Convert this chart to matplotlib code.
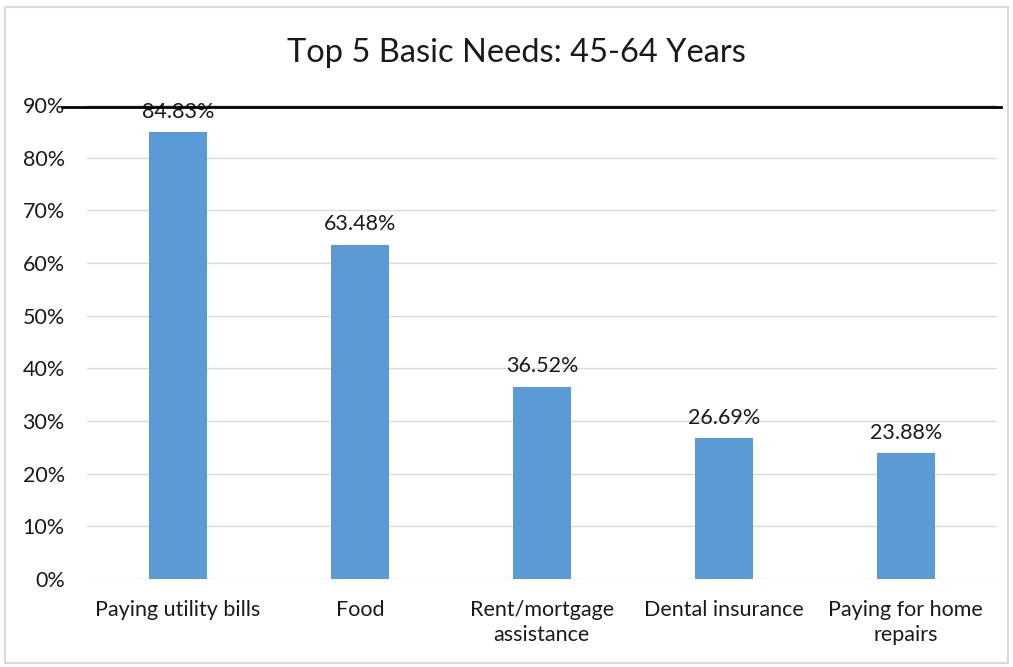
import matplotlib
matplotlib.use("Agg")
import matplotlib.pyplot as plt
from matplotlib.patches import Rectangle
from matplotlib.lines import Line2D

plt.rcParams['font.family'] = ['Lato', 'DejaVu Sans']

categories = ['Paying utility bills', 'Food', 'Rent/mortgage\nassistance',
              'Dental insurance', 'Paying for home\nrepairs']
values = [84.83, 63.48, 36.52, 26.69, 23.88]
yticks = [0, 10, 20, 30, 40, 50, 60, 70, 80, 90]

fig = plt.figure(figsize=(10.13, 6.67), dpi=100)
ax = fig.add_axes([0.0859, 0.132, 0.898, 0.7106])

x = range(len(categories))
ax.bar(x, values, width=0.32, color='#5B9BD5', zorder=3)
for xi, v in zip(x, values):
    ax.text(xi, v + 2.0, f'{v:.2f}%', ha='center', va='bottom', fontsize=15.5, color='#1a1a1a', zorder=4)

ax.set_xlim(-0.5, len(categories) - 0.5)
ax.set_ylim(0, 90)
ax.set_yticks(yticks)
ax.set_yticklabels([f'{t}%' for t in yticks], fontsize=15.5, color='#1a1a1a')
ax.set_xticks(list(x))
ax.set_xticklabels(categories, fontsize=15.5, color='#1a1a1a', linespacing=1.35)
ax.tick_params(axis='both', length=0)
ax.tick_params(axis='y', pad=16)
ax.tick_params(axis='x', pad=15)
ax.grid(axis='y', color='#d9d9d9', linewidth=1, zorder=0)
for s in ax.spines.values():
    s.set_visible(False)

# heavy rule along the 90% line
fig.add_artist(Line2D([62 / 1013, 1001 / 1013], [1 - 107 / 667, 1 - 107 / 667],
                      color='black', linewidth=2, zorder=5))

# chart frame
fig.add_artist(Rectangle((5 / 1013, 4 / 667), 1003 / 1013, 656 / 667, fill=False,
                         edgecolor='#d9d9d9', linewidth=1.5))

fig.suptitle('Top 5 Basic Needs: 45-64 Years', x=516 / 1013, y=1 - 53 / 667, va='center',
             fontsize=23.5, color='#1a1a1a')

fig.savefig('out.png', dpi=100)
